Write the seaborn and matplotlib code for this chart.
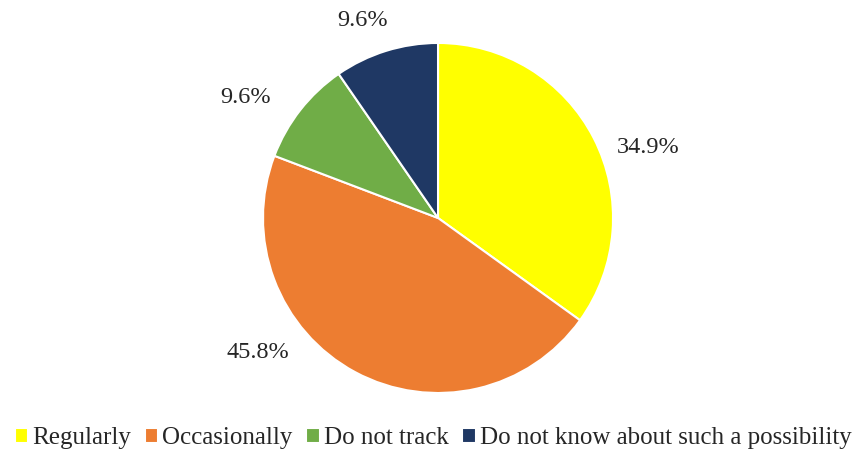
import matplotlib
matplotlib.use("Agg")
import matplotlib.pyplot as plt
import seaborn as sns

categories = ["Regularly", "Occasionally", "Do not track", "Do not know about such a possibility"]
shares = [34.9, 45.8, 9.6, 9.6]
colors = ["#FFFF00", "#ED7D31", "#70AD47", "#1F3864"]
# label anchors as (dx, dy) offsets from the pie centre, in radius units
label_offsets = [(1.20, 0.40), (-1.03, -0.77), (-1.10, 0.69), (-0.43, 1.13)]

sns.set_style("white")
plt.rcParams["font.family"] = ["Liberation Serif", "DejaVu Serif"]

fig = plt.figure(figsize=(8.66, 4.5), dpi=100)
ax = fig.add_axes([0.3037, 0.1267, 0.4042, 0.7778])

wedges, _ = ax.pie(
    shares,
    colors=sns.color_palette(colors),
    startangle=90,
    counterclock=False,
    radius=1.0,
    wedgeprops=dict(edgecolor="white", linewidth=1.5),
)
ax.set_xlim(-1, 1)
ax.set_ylim(-1, 1)
ax.set_aspect("equal")

for val, (dx, dy) in zip(shares, label_offsets):
    ax.text(dx, dy, f"{val:.1f}%", ha="center", va="center",
            fontsize=17.5, color="#262626", clip_on=False)

leg = fig.legend(
    wedges, categories, loc="lower center", bbox_to_anchor=(0.5, -0.02),
    ncol=4, frameon=False, fontsize=18, handlelength=0.55, handleheight=0.55,
    handletextpad=0.15, columnspacing=0.55, borderaxespad=0.0,
)
for t in leg.get_texts():
    t.set_color("#262626")

fig.savefig("out.png", dpi=100)
